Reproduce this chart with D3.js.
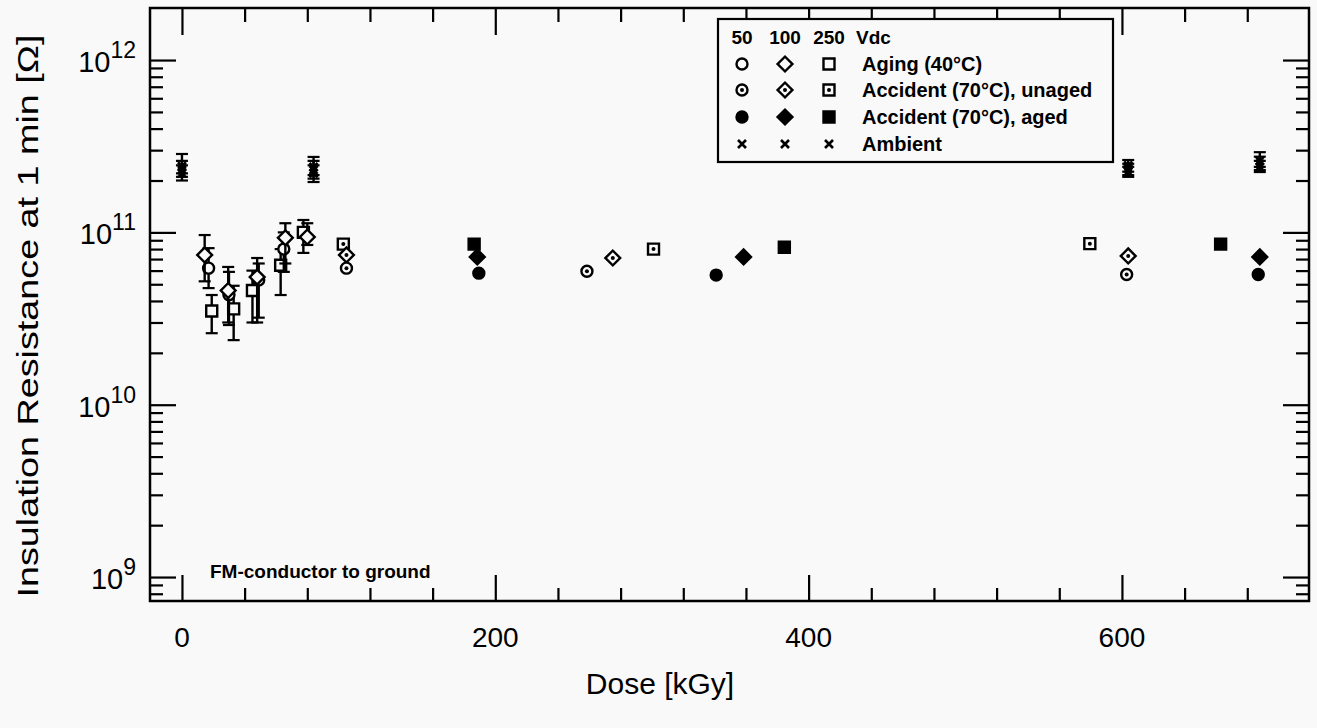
<!DOCTYPE html>
<html>
<head>
<meta charset="utf-8">
<script src="https://cdn.jsdelivr.net/npm/d3@7"></script>
<style>
  body { margin: 0; background: #f9f9f9; }
  svg { display: block; }
  text { font-family: "Liberation Sans", Arial, Helvetica, sans-serif; fill: #000; }
</style>
</head>
<body>
<svg id="chart" width="1317" height="728"></svg>
<script>
// ---- data (dose in kGy, insulation resistance in ohm) ----
// Aging (40°C), with error bars
const aging50 = [
  { dose: 17,   r: 6.2e10,  lo: 4.75e10, hi: 8.1e10 },
  { dose: 30,   r: 4.35e10, lo: 2.9e10,  hi: 5.9e10 },
  { dose: 49,   r: 5.3e10,  lo: 3.2e10,  hi: 6.6e10 },
  { dose: 65,   r: 8.0e10,  lo: 5.9e10,  hi: 1.0e11 }
];
const aging100 = [
  { dose: 14.5, r: 7.4e10,  lo: 5.2e10,  hi: 9.65e10 },
  { dose: 29.5, r: 4.6e10,  lo: 3.0e10,  hi: 6.3e10 },
  { dose: 48,   r: 5.5e10,  lo: 3.0e10,  hi: 7.1e10 },
  { dose: 66,   r: 9.3e10,  lo: 6.6e10,  hi: 1.13e11 },
  { dose: 80,   r: 9.4e10,  lo: 8.45e10, hi: 1.13e11 }
];
const aging250 = [
  { dose: 19,   r: 3.5e10,  lo: 2.6e10,  hi: 4.33e10 },
  { dose: 33,   r: 3.6e10,  lo: 2.37e10, hi: 4.9e10 },
  { dose: 45,   r: 4.6e10,  lo: 3.0e10,  hi: 6.0e10 },
  { dose: 63,   r: 6.45e10, lo: 4.33e10, hi: 8.0e10 },
  { dose: 77.5, r: 1.0e11,  lo: 7.6e10,  hi: 1.18e11 }
];
// Accident (70°C), unaged
const unaged50  = [{ dose: 105, r: 6.2e10 }, { dose: 258.5, r: 5.95e10 }, { dose: 603,   r: 5.7e10 }];
const unaged100 = [{ dose: 105, r: 7.4e10 }, { dose: 275,   r: 7.1e10 },  { dose: 604,   r: 7.3e10 }];
const unaged250 = [{ dose: 103, r: 8.55e10 }, { dose: 301,  r: 8.0e10 },  { dose: 579.5, r: 8.6e10 }];
// Accident (70°C), aged
const aged50  = [{ dose: 189.5, r: 5.8e10 },  { dose: 341,   r: 5.65e10 }, { dose: 687, r: 5.7e10 }];
const aged100 = [{ dose: 188.5, r: 7.2e10 },  { dose: 358.5, r: 7.2e10 },  { dose: 688, r: 7.2e10 }];
const aged250 = [{ dose: 186.5, r: 8.55e10 }, { dose: 384.5, r: 8.2e10 },  { dose: 663, r: 8.55e10 }];
// Ambient, with error bars
const amb50 = [
  { dose: 0,   r: 2.2e11,  lo: 2.0e11,  hi: 2.45e11 },
  { dose: 84,  r: 2.2e11,  lo: 1.96e11, hi: 2.45e11 },
  { dose: 604, r: 2.25e11, lo: 2.1e11,  hi: 2.4e11 },
  { dose: 688, r: 2.4e11,  lo: 2.24e11, hi: 2.6e11 }
];
const amb100 = [
  { dose: 0,   r: 2.3e11,  lo: 2.1e11,  hi: 2.6e11 },
  { dose: 84,  r: 2.3e11,  lo: 2.05e11, hi: 2.6e11 },
  { dose: 604, r: 2.35e11, lo: 2.15e11, hi: 2.5e11 },
  { dose: 688, r: 2.5e11,  lo: 2.3e11,  hi: 2.75e11 }
];
const amb250 = [
  { dose: 0,   r: 2.42e11, lo: 2.2e11,  hi: 2.85e11 },
  { dose: 84,  r: 2.4e11,  lo: 2.15e11, hi: 2.74e11 },
  { dose: 604, r: 2.45e11, lo: 2.25e11, hi: 2.63e11 },
  { dose: 688, r: 2.6e11,  lo: 2.4e11,  hi: 2.92e11 }
];

const xMajor = [0, 200, 400, 600];
const xMinor = [40, 80, 120, 160, 240, 280, 320, 360, 440, 480, 520, 560, 640, 680];
const yMajor = [1e9, 1e10, 1e11, 1e12];
const yExp = ['9', '10', '11', '12'];
const yMinorMult = [2, 3, 4, 5, 6, 7, 8, 9];

const legendCols = ['50', '100', '250'];
const legendRows = ['Aging (40°C)', 'Accident (70°C), unaged', 'Accident (70°C), aged', 'Ambient'];

// ---- layout ----
const L = 150, R = 1309, T = 8, B = 601;
const bg = '#f9f9f9';

const svg = d3.select('#chart');
svg.append('rect').attr('width', 1317).attr('height', 728).attr('fill', bg);

const x = d3.scaleLinear().domain([-20.4, 719.4]).range([L, R]);
const y = d3.scaleLog().domain([Math.pow(10, 8.861), Math.pow(10, 12.302)]).range([B, T]);

// minor log ticks inside the domain
const yMinor = [];
[8, 9, 10, 11, 12].forEach(d => yMinorMult.forEach(m => {
  const v = m * Math.pow(10, d);
  const py = y(v);
  if (py > T + 2 && py < B - 2) yMinor.push(v);
}));

function axisGroup(axis, tx, ty) {
  const g = svg.append('g').attr('transform', `translate(${tx},${ty})`).call(axis);
  g.select('.domain').remove();
  g.selectAll('line').attr('stroke', '#000').attr('stroke-width', 2.2);
  return g;
}
// bottom / top
axisGroup(d3.axisBottom(x).tickValues(xMinor).tickSize(-13).tickFormat(''), 0, B);
axisGroup(d3.axisBottom(x).tickValues(xMajor).tickSize(-26).tickFormat(''), 0, B);
axisGroup(d3.axisTop(x).tickValues(xMinor).tickSize(-14).tickFormat(''), 0, T);
axisGroup(d3.axisTop(x).tickValues(xMajor).tickSize(-27).tickFormat(''), 0, T);
// left / right
axisGroup(d3.axisLeft(y).tickValues(yMinor).tickSize(-13).tickFormat(''), L, 0);
axisGroup(d3.axisLeft(y).tickValues(yMajor).tickSize(-26).tickFormat(''), L, 0);
axisGroup(d3.axisRight(y).tickValues(yMinor).tickSize(-13).tickFormat(''), R, 0);
axisGroup(d3.axisRight(y).tickValues(yMajor).tickSize(-26).tickFormat(''), R, 0);

// frame
svg.append('rect').attr('x', L).attr('y', T).attr('width', R - L).attr('height', B - T)
  .attr('fill', 'none').attr('stroke', '#000').attr('stroke-width', 2.5);

// tick labels
svg.selectAll('.xl').data(xMajor).enter().append('text')
  .attr('x', d => x(d)).attr('y', 647).attr('text-anchor', 'middle')
  .attr('font-size', 28).text(d => d);

yMajor.forEach((v, i) => {
  const t = svg.append('text').attr('x', 136).attr('y', y(v) + 12)
    .attr('text-anchor', 'end').attr('font-size', 29);
  t.append('tspan').text('10');
  t.append('tspan').attr('dy', -14).attr('font-size', 23).text(yExp[i]);
});

// axis titles
svg.append('text').attr('x', 660).attr('y', 694).attr('text-anchor', 'middle')
  .attr('font-size', 30).text('Dose [kGy]');
svg.append('text').attr('transform', 'translate(38,316) rotate(-90)')
  .attr('text-anchor', 'middle').attr('font-size', 29)
  .attr('textLength', 563).attr('lengthAdjust', 'spacingAndGlyphs')
  .text('Insulation Resistance at 1 min [Ω]');

svg.append('text').attr('x', 210).attr('y', 578).attr('font-size', 19)
  .attr('font-weight', 'bold').text('FM-conductor to ground');

// ---- markers ----
function shapePath(shape) {
  if (shape === 'circle') return d3.symbol().type(d3.symbolCircle).size(Math.PI * 5.5 * 5.5)();
  if (shape === 'square') return d3.symbol().type(d3.symbolSquare).size(121)();
  if (shape === 'diamond') return d3.symbol().type(d3.symbolSquare).size(110)();
  return 'M-4,-4L4,4M-4,4L4,-4';
}

function drawMarker(g, px, py, shape, style) {
  const m = g.append('g').attr('transform', `translate(${px},${py})`);
  const p = m.append('path').attr('d', shapePath(shape))
    .attr('transform', shape === 'diamond' ? 'rotate(45)' : null)
    .attr('stroke', '#000').attr('stroke-width', shape === 'cross' ? 2.6 : 2.4);
  if (shape === 'cross') { p.attr('fill', 'none'); return; }
  p.attr('fill', style === 'filled' ? '#000' : bg);
  if (style === 'dot') m.append('circle').attr('r', 2).attr('fill', '#000');
}

function drawSeries(data, shape, style) {
  const g = svg.append('g');
  data.forEach(d => {
    if (d.lo !== undefined) {
      const px = x(d.dose);
      g.append('line').attr('x1', px).attr('x2', px).attr('y1', y(d.lo)).attr('y2', y(d.hi))
        .attr('stroke', '#000').attr('stroke-width', 2.4);
      [d.lo, d.hi].forEach(v => g.append('line')
        .attr('x1', px - 6).attr('x2', px + 6).attr('y1', y(v)).attr('y2', y(v))
        .attr('stroke', '#000').attr('stroke-width', 2.2));
    }
  });
  data.forEach(d => drawMarker(g, x(d.dose), y(d.r), shape, style));
}

drawSeries(amb50, 'cross');
drawSeries(amb100, 'cross');
drawSeries(amb250, 'cross');
drawSeries(aging250, 'square', 'open');
drawSeries(aging50, 'circle', 'open');
drawSeries(aging100, 'diamond', 'open');
drawSeries(unaged250, 'square', 'dot');
drawSeries(unaged100, 'diamond', 'dot');
drawSeries(unaged50, 'circle', 'dot');
drawSeries(aged250, 'square', 'filled');
drawSeries(aged100, 'diamond', 'filled');
drawSeries(aged50, 'circle', 'filled');

// ---- legend ----
const lg = svg.append('g');
lg.append('rect').attr('x', 718).attr('y', 19).attr('width', 395).attr('height', 143)
  .attr('fill', bg).attr('stroke', '#000').attr('stroke-width', 2.2);
const colX = [742, 785, 829];
legendCols.forEach((c, i) => lg.append('text').attr('x', colX[i]).attr('y', 44)
  .attr('text-anchor', 'middle').attr('font-size', 19).attr('font-weight', 'bold').text(c));
lg.append('text').attr('x', 856).attr('y', 44).attr('font-size', 19)
  .attr('font-weight', 'bold').text('Vdc');
const rowY = [64, 90, 117, 144];
const rowStyle = ['open', 'dot', 'filled', 'cross'];
const shapes = ['circle', 'diamond', 'square'];
legendRows.forEach((label, ri) => {
  shapes.forEach((s, ci) => {
    if (ri === 3) drawMarker(lg, colX[ci], rowY[ri], 'cross');
    else drawMarker(lg, colX[ci], rowY[ri], s, rowStyle[ri]);
  });
  lg.append('text').attr('x', 862).attr('y', rowY[ri] + 7).attr('font-size', 20)
    .attr('font-weight', 'bold').text(label);
});
</script>
</body>
</html>
